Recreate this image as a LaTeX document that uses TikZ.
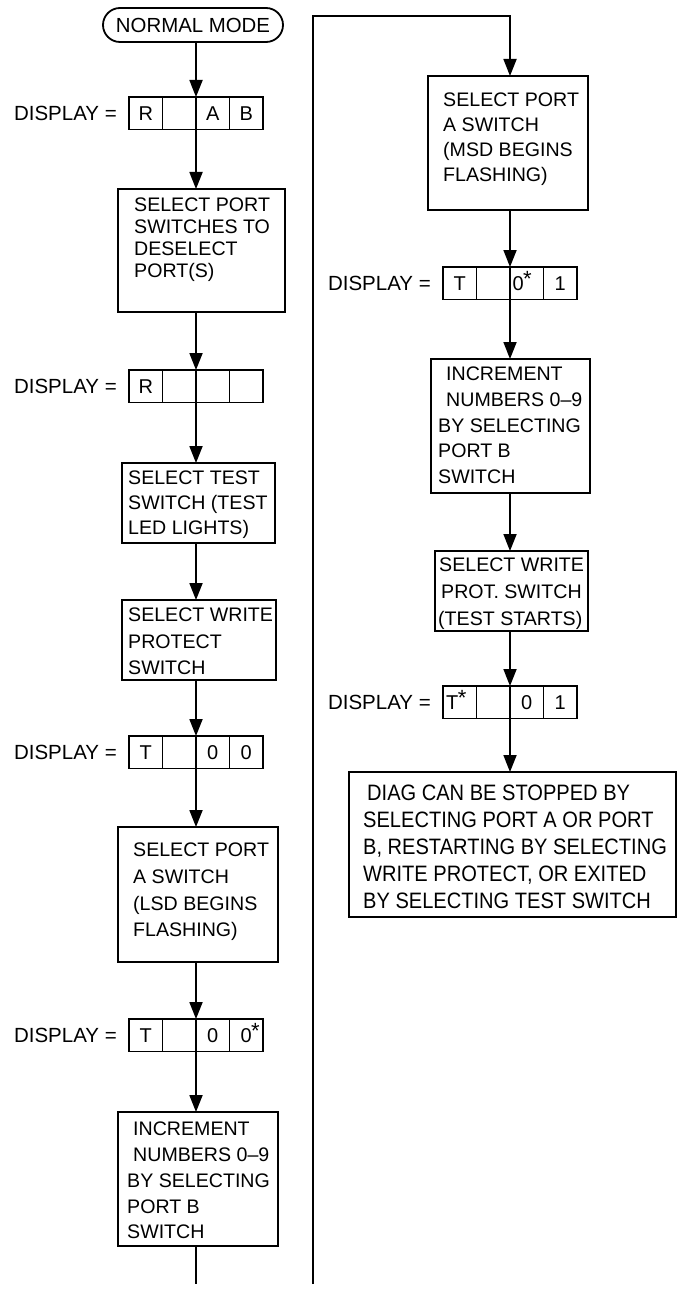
\documentclass[tikz,border=0pt]{standalone}
\usepackage{fontspec}
\setmainfont{Liberation Sans}
\newfontfamily\widetext[FakeStretch=0.9]{Liberation Sans}
\usetikzlibrary{arrows.meta,calc}

\tikzset{
  wire/.style={line width=1.8pt},
  arr/.style={wire, -{Triangle[length=17pt,width=13pt]}},
  stepbox/.style={draw, line width=1.8pt, anchor=north west, inner sep=0pt, outer sep=0pt},
  txt/.style={anchor=north west, inner sep=0pt, align=left, font=\fontsize{19.6}{#1}\selectfont},
  txt/.default=25pt,
  cell/.style={draw, line width=1.7pt, anchor=north west, minimum width=33.5pt,
    minimum height=32.5pt, inner sep=0pt, outer sep=0pt, font=\fontsize{20}{22}\selectfont},
  dlabel/.style={anchor=east, inner sep=0pt, font=\fontsize{20.5}{22}\selectfont},
}

% raised asterisk marking a flashing digit
\newcommand\starmark{\smash{\raisebox{3.3pt}{\fontsize{22}{22}\selectfont\kern-0.6pt*}}}

% four-digit display: name, x, y, digit 1, digit 3, digit 4
\newcommand\displayrow[6]{%
  \node[cell] (#1-1) at (#2,#3) {#4};
  \node[cell] (#1-2) at (#1-1.north east) {};
  \node[cell] (#1-3) at (#1-2.north east) {#5};
  \node[cell] (#1-4) at (#1-3.north east) {#6};
  \node[dlabel] (#1-lab) at ($(#1-1.west)+(-12,0)$) {DISPLAY =};
}

\begin{document}
\begin{tikzpicture}[x=1pt,y=-1pt]
\useasboundingbox (0,0) rectangle (678,1289);

% ---------- left column ----------
\node[draw, line width=1.8pt, rounded corners=17pt, minimum width=180pt, minimum height=34pt,
  inner sep=0pt, font=\fontsize{20.4}{22}\selectfont] (nm) at (193,25) {NORMAL MODE};

\displayrow{dA}{129}{97}{R}{A}{B}

\node[stepbox, minimum width=167pt, minimum height=123pt] (b1) at (118,189) {};
\node[txt=22pt] (t1) at (134,198) {SELECT PORT\\SWITCHES TO\\DESELECT\\PORT(S)};

\displayrow{dB}{129}{370}{R}{}{}

\node[stepbox, minimum width=153pt, minimum height=80pt] (b2) at (122,463) {};
\node[txt=25pt] (t2) at (128,471) {SELECT TEST\\SWITCH (TEST\\LED LIGHTS)};

\node[stepbox, minimum width=154pt, minimum height=80pt] (b3) at (122,600) {};
\node[txt=26.5pt] (t3) at (128,608) {SELECT WRITE\\PROTECT\\SWITCH};

\displayrow{dC}{129}{736}{T}{0}{0}

\node[stepbox, minimum width=160pt, minimum height=135pt] (b4) at (118,827) {};
\node[txt=26.7pt] (t4) at (133,843) {SELECT PORT\\A SWITCH\\(LSD BEGINS\\FLASHING)};

\displayrow{dD}{129}{1019}{T}{0}{0\rlap{\starmark}}

\node[stepbox, minimum width=160pt, minimum height=134pt] (b5) at (118,1112) {};
\node[txt=25.7pt] (t5) at (127,1122) {\hspace*{6pt}INCREMENT\\\hspace*{6pt}NUMBERS 0–9\\BY SELECTING\\PORT B\\SWITCH};

\coordinate (offL) at (196,1284);

% ---------- right column ----------
\coordinate (offR) at (313,1284);
\coordinate (turn) at (313,16);

\node[stepbox, minimum width=160pt, minimum height=134pt] (rb1) at (428,76) {};
\node[txt=25pt] (rt1) at (443,93) {SELECT PORT\\A SWITCH\\(MSD BEGINS\\FLASHING)};

\displayrow{dE}{443}{267}{T}{0\rlap{\starmark}\kern17pt}{1}

\node[stepbox, minimum width=159pt, minimum height=134pt] (rb2) at (431,359) {};
\node[txt=25.7pt] (rt2) at (438,367) {\hspace*{8pt}INCREMENT\\\hspace*{8pt}NUMBERS 0–9\\BY SELECTING\\PORT B\\SWITCH};

\node[stepbox, minimum width=153pt, minimum height=80pt] (rb3) at (435,551) {};
\node[txt=26.7pt] (rt3) at (438,558) {\hspace*{1pt}SELECT WRITE\\\hspace*{3pt}PROT. SWITCH\\(TEST STARTS)};

\displayrow{dF}{443}{686}{T\rlap{\starmark}\kern15pt}{0}{1}

\node[stepbox, minimum width=327pt, minimum height=145pt] (fin) at (349,772) {};
\node[txt, font=\widetext\fontsize{22.3}{27}\selectfont] (tf) at (363,785)
  {\hspace*{4pt}DIAG CAN BE STOPPED BY\\SELECTING PORT A OR PORT\\B, RESTARTING BY SELECTING\\WRITE PROTECT, OR EXITED\\BY SELECTING TEST SWITCH};

% ---------- connectors ----------
\draw[arr] (dA-2.north east |- nm.south) -- (dA-2.north east);
\draw[arr] (dA-2.south east) -- (b1.north -| dA-2.east);
\draw[arr] (b1.south -| dB-2.east) -- (dB-2.north east);
\draw[arr] (dB-2.south east) -- (b2.north -| dB-2.east);
\draw[arr] (b2.south -| dB-2.east) -- (b3.north -| dB-2.east);
\draw[arr] (b3.south -| dC-2.east) -- (dC-2.north east);
\draw[arr] (dC-2.south east) -- (b4.north -| dC-2.east);
\draw[arr] (b4.south -| dD-2.east) -- (dD-2.north east);
\draw[arr] (dD-2.south east) -- (b5.north -| dD-2.east);
\draw[wire] (b5.south -| dD-2.east) -- (offL);

\draw[arr] (offR) -- (turn) -| (rb1.north -| dE-2.east);
\draw[arr] (rb1.south -| dE-2.east) -- (dE-2.north east);
\draw[arr] (dE-2.south east) -- (rb2.north -| dE-2.east);
\draw[arr] (rb2.south -| dE-2.east) -- (rb3.north -| dE-2.east);
\draw[arr] (rb3.south -| dF-2.east) -- (dF-2.north east);
\draw[arr] (dF-2.south east) -- (fin.north -| dF-2.east);
\end{tikzpicture}
\end{document}
